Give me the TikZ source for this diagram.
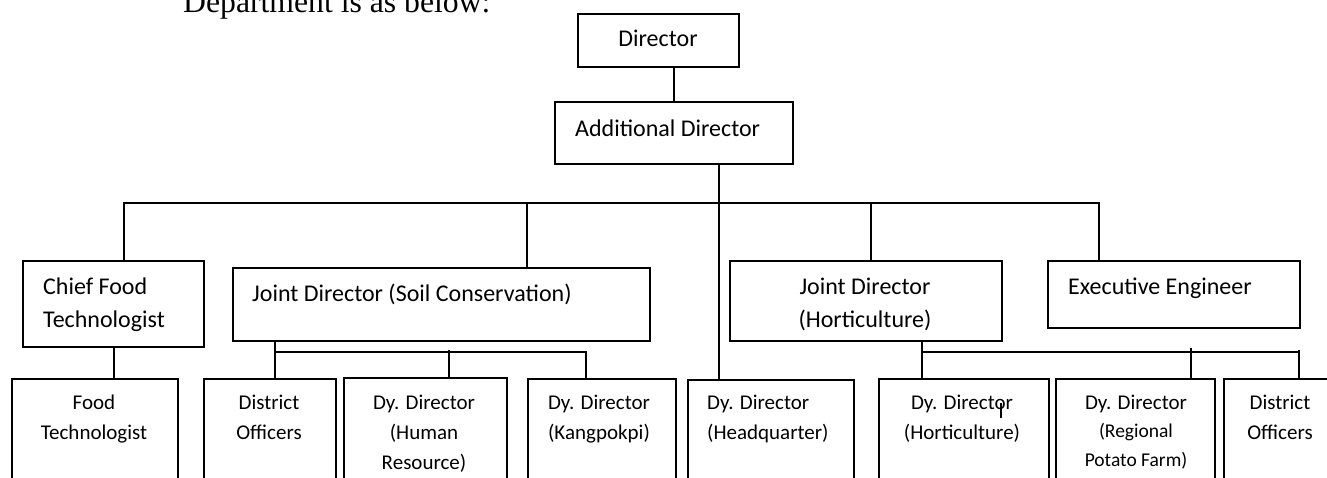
\documentclass[tikz,border=0pt]{standalone}
\usepackage{fontspec}
\setmainfont{Carlito}
\newfontfamily\headfont{Liberation Serif}
\begin{document}
\begin{tikzpicture}[x=1pt,y=-1pt]
\tikzset{
  box/.style={draw, line width=1.6pt, inner sep=0pt, anchor=north west, rectangle},
  conn/.style={line width=1.2pt},
  big/.style={inner sep=0pt, font=\fontsize{24}{28}\selectfont},
  small/.style={inner sep=0pt, font=\fontsize{21}{25}\selectfont},
  tiny/.style={inner sep=0pt, font=\fontsize{19.5}{23}\selectfont},
}
\path[use as bounding box] (0,0) rectangle (1327,477);
\fill[white] (0,0) rectangle (1327,477);
\clip (0,0) rectangle (1327,477);

% heading
\node[anchor=base west, inner sep=0pt, font=\headfont\fontsize{31.7}{36}\selectfont] (head) at (183,12) {Department is as below:};

% boxes
\node[box, minimum width=161pt, minimum height=53pt] (dir) at (577,13) {};
\node[box, minimum width=238pt, minimum height=62pt] (add) at (554,101) {};
\node[box, minimum width=181pt, minimum height=86pt] (cft) at (22,260) {};
\node[box, minimum width=417pt, minimum height=73pt] (jds) at (232,267) {};
\node[box, minimum width=272pt, minimum height=80pt] (jdh) at (729,260) {};
\node[box, minimum width=252pt, minimum height=67pt] (ee) at (1047,260) {};
\node[box, minimum width=166pt, minimum height=130pt] (ft) at (11,378) {};
\node[box, minimum width=132pt, minimum height=130pt] (do1) at (203,378) {};
\node[box, minimum width=163pt, minimum height=130pt] (hr) at (343,377) {};
\node[box, minimum width=148pt, minimum height=130pt] (kang) at (527,378) {};
\node[box, minimum width=166pt, minimum height=130pt] (hq) at (687,379) {};
\node[box, minimum width=170pt, minimum height=130pt] (dyh) at (878,378) {};
\node[box, minimum width=159pt, minimum height=130pt] (pot) at (1055,378) {};
\node[box, minimum width=137pt, minimum height=130pt] (do2) at (1223,378) {};

% coordinates
\coordinate (xd) at (674,0);
\coordinate (xa) at (719,0);
\coordinate (bus1) at (124,203);
\coordinate (bus2) at (527,203);
\coordinate (bus3) at (871,203);
\coordinate (bus4) at (1099,203);
\coordinate (xf) at (114,0);
\coordinate (s1) at (275,352);
\coordinate (s2) at (449,350);
\coordinate (s3) at (586,352);
\coordinate (h1) at (922,352);
\coordinate (h2) at (1191,348);
\coordinate (h3) at (1299,350);
\coordinate (h3b) at (1299,352);
\coordinate (tk1) at (1001,403);
\coordinate (tk2) at (1001,418);

% connectors
\draw[conn] (dir.south -| xd) -- (add.north -| xd);
\draw[conn] (add.south -| xa) -- (hq.north -| xa);
\draw[conn] (cft.north -| bus1) -- (bus1) -- (bus4) -- (ee.north -| bus4);
\draw[conn] (bus2) -- (jds.north -| bus2);
\draw[conn] (bus3) -- (jdh.north -| bus3);
\draw[conn] (cft.south -| xf) -- (ft.north -| xf);
\draw[conn] (jds.south -| s1) -- (do1.north -| s1);
\draw[conn] (s1) -- (s3) -- (kang.north -| s3);
\draw[conn] (s2) -- (hr.north -| s2);
\draw[conn] (jdh.south -| h1) -- (dyh.north -| h1);
\draw[conn] (h1) -- (h3b);
\draw[conn] (h2) -- (pot.north -| h2);
\draw[conn] (h3) -- (do2.north -| h3);
\draw[conn] (tk1) -- (tk2);

% texts
\node[big, anchor=base] (tdir) at (658,46) {Director};
\node[big, anchor=base west] (tadd) at (575,136) {Additional Director};
\node[big, anchor=base west] (tcft1) at (43,294) {Chief Food};
\node[big, anchor=base west] (tcft2) at (43,327) {Technologist};
\node[big, anchor=base west] (tjds) at (252,301) {Joint Director (Soil Conservation)};
\node[big, anchor=base] (tjdh1) at (865,294) {Joint Director};
\node[big, anchor=base] (tjdh2) at (865,327) {(Horticulture)};
\node[big, anchor=base west] (tee) at (1068,294) {Executive Engineer};

\node[small, anchor=base] (tft1) at (94,409) {Food};
\node[small, anchor=base] (tft2) at (94,439) {Technologist};
\node[small, anchor=base] (tdo11) at (269,409) {District};
\node[small, anchor=base] (tdo12) at (269,439) {Officers};
\node[small, anchor=base] (thr1) at (424,409) {Dy. Director};
\node[small, anchor=base] (thr2) at (424,439) {(Human};
\node[small, anchor=base] (thr3) at (424,469) {Resource)};
\node[small, anchor=base] (tk1t) at (599,409) {Dy. Director};
\node[small, anchor=base] (tk2t) at (599,439) {(Kangpokpi)};
\node[small, anchor=base west] (thq1) at (707,409) {Dy. Director};
\node[small, anchor=base west] (thq2) at (707,439) {(Headquarter)};
\node[small, anchor=base] (tdyh1) at (962,409) {Dy. Director};
\node[small, anchor=base] (tdyh2) at (962,439) {(Horticulture)};
\node[small, anchor=base] (tpot1) at (1136,409) {Dy. Director};
\node[tiny, anchor=base] (tpot2) at (1136,437) {(Regional};
\node[tiny, anchor=base] (tpot3) at (1136,466) {Potato Farm)};
\node[small, anchor=base] (tdo21) at (1280,409) {District};
\node[small, anchor=base] (tdo22) at (1280,439) {Officers};
\end{tikzpicture}
\end{document}
